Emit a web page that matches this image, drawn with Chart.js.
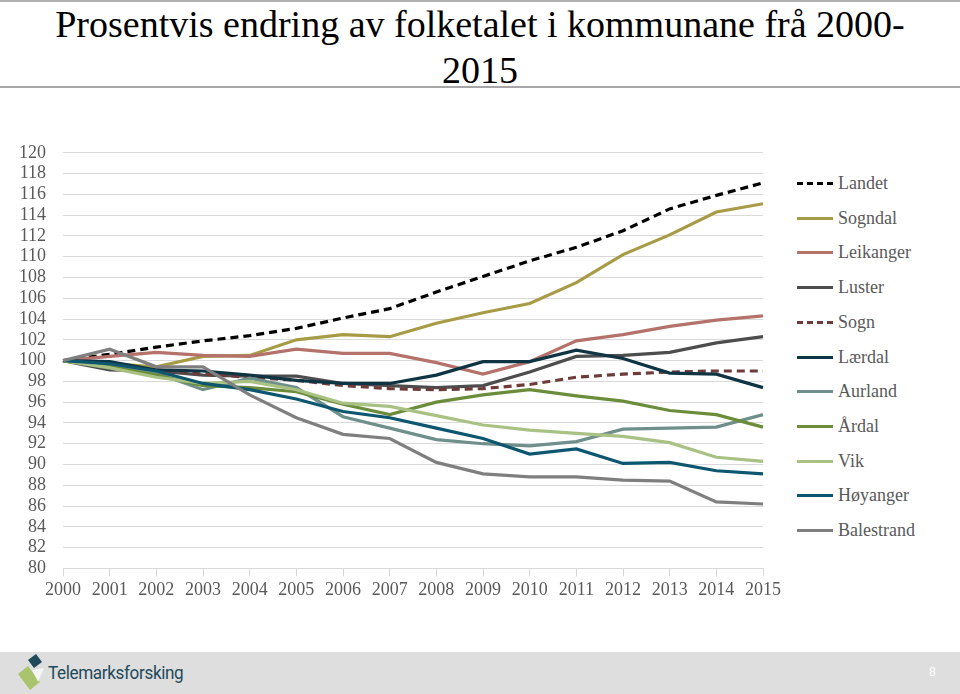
<!DOCTYPE html>
<html>
<head>
<meta charset="utf-8">
<script src="https://cdn.jsdelivr.net/npm/chart.js@4"></script>
<style>
  body { margin: 0; width: 960px; height: 694px; background: #fff; position: relative; overflow: hidden; font-family: "Liberation Serif", serif; }
  #topline { position: absolute; left: 0; top: 0; width: 960px; height: 2px; background: #b0b0b0; }
  #title { position: absolute; left: 0; top: 0; width: 960px; text-align: center; font-size: 38px; line-height: 46px; color: #000; padding-top: 1px; }
  #titleline { position: absolute; left: 0; top: 86px; width: 960px; height: 2px; background: #a6a6a6; }
  #wrap { position: absolute; left: 0; top: 125px; width: 784px; height: 479px; }
  #legend { position: absolute; left: 797px; top: 0; }
  .item { position: absolute; left: 0; height: 20px; white-space: nowrap; font-size: 18px; color: #595959; }
  .item span.sw { position: absolute; left: 0; top: 9px; width: 36px; height: 0; }
  .item span.tx { position: absolute; left: 41px; top: 0; line-height: 20px; }
  #footer { position: absolute; left: 0; top: 652px; width: 960px; height: 42px; background: #dedede; }
  #logo { position: absolute; left: 48px; top: 9px; font-family: "Roboto", "Liberation Sans", sans-serif; font-size: 19px; color: #1e4a5a; letter-spacing: -0.4px; transform: scaleX(0.9); transform-origin: left; }
  #page { position: absolute; left: 929px; top: 13px; font-family: "Liberation Sans", sans-serif; font-size: 12px; color: #fff; }
</style>
</head>
<body>
<div id="topline"></div>
<div id="title">Prosentvis endring av folketalet i kommunane frå 2000-<br>2015</div>
<div id="titleline"></div>
<div id="wrap"><canvas id="chart"></canvas></div>
<div id="legend"></div>
<div id="footer">
  <svg width="40" height="42" style="position:absolute;left:12px;top:0">
    <polygon points="16,8 24,2 30,10 22,16" fill="#1e4a5a"/>
    <polygon points="6,22 16,14 28,30 18,38" fill="#a9c46c"/>
    <polygon points="20,18 32,16 26,30" fill="#ffffff" opacity="0.7"/>
  </svg>
  <div id="logo">Telemarksforsking</div>
  <div id="page">8</div>
</div>
<script>
// years on the x axis
const years = ["2000", "2001", "2002", "2003", "2004", "2005", "2006", "2007",
  "2008", "2009", "2010", "2011", "2012", "2013", "2014", "2015"];

// index, 2000 = 100
const landet     = [100, 100.6, 101.3, 101.9, 102.4, 103.1, 104.1, 105.0, 106.6, 108.1, 109.6, 110.9, 112.5, 114.6, 115.9, 117.1];
const sogndal    = [100, 99.7, 99.4, 100.4, 100.5, 102.0, 102.5, 102.3, 103.6, 104.6, 105.5, 107.5, 110.2, 112.1, 114.3, 115.1];
const leikanger  = [100, 100.4, 100.8, 100.5, 100.4, 101.1, 100.7, 100.7, 99.8, 98.7, 99.9, 101.9, 102.5, 103.3, 103.9, 104.3];
const luster     = [100, 99.1, 99.0, 98.6, 98.5, 98.5, 97.8, 97.6, 97.4, 97.6, 98.9, 100.4, 100.5, 100.8, 101.7, 102.3];
const sogn       = [100, 99.6, 99.1, 98.7, 98.4, 98.1, 97.6, 97.3, 97.2, 97.3, 97.7, 98.4, 98.7, 98.9, 99.0, 99.0];
const laerdal    = [100, 99.9, 99.1, 99.0, 98.6, 98.1, 97.8, 97.8, 98.6, 99.9, 99.9, 101.0, 100.2, 98.8, 98.7, 97.4];
const aurland    = [100, 99.6, 98.8, 97.2, 98.3, 97.4, 94.6, 93.5, 92.4, 92.0, 91.8, 92.2, 93.4, 93.5, 93.6, 94.8];
const ardal      = [100, 99.4, 98.6, 97.6, 97.4, 97.0, 95.8, 94.8, 96.0, 96.7, 97.2, 96.6, 96.1, 95.2, 94.8, 93.6];
const vik        = [100, 99.3, 98.4, 97.8, 98.0, 97.2, 95.9, 95.6, 94.7, 93.8, 93.3, 93.0, 92.7, 92.1, 90.7, 90.3];
const hoyanger   = [100, 99.7, 99.0, 97.8, 97.2, 96.3, 95.1, 94.5, 93.5, 92.5, 91.0, 91.5, 90.1, 90.2, 89.4, 89.1];
const balestrand = [100, 101.1, 99.4, 99.4, 96.7, 94.5, 92.9, 92.5, 90.2, 89.1, 88.8, 88.8, 88.5, 88.4, 86.4, 86.2];

const names  = ["Landet", "Sogndal", "Leikanger", "Luster", "Sogn", "Lærdal", "Aurland", "Årdal", "Vik", "Høyanger", "Balestrand"];
const series = [landet, sogndal, leikanger, luster, sogn, laerdal, aurland, ardal, vik, hoyanger, balestrand];
const colors = ["#000000", "#a89b46", "#b4726a", "#4d4d4d", "#6e3b3b", "#0f3443", "#6f8f8a", "#6b8c3a", "#a9c284", "#0c5670", "#7f7f7f"];
const dashed = [true, false, false, false, true, false, false, false, false, false, false];

Chart.defaults.font.family = "'Liberation Serif', serif";
Chart.defaults.font.size = 18;
Chart.defaults.color = "#595959";

// draw later series first so Landet ends up on top, like the original
const datasets = names.map((name, i) => ({
  label: name,
  data: series[i],
  borderColor: colors[i],
  backgroundColor: colors[i],
  borderWidth: 3.2,
  borderDash: dashed[i] ? [8, 5] : [],
  pointRadius: 0,
  tension: 0,
  order: -i
}));

function drawChart() {
  new Chart(document.getElementById("chart").getContext("2d"), {
    type: "line",
    data: { labels: years, datasets: datasets },
    options: {
      responsive: true,
      maintainAspectRatio: false,
      animation: false,
      layout: { padding: { left: 2, right: 0, top: 0, bottom: 0 } },
      plugins: {
        legend: { display: false },
        tooltip: { enabled: false }
      },
      scales: {
        x: {
          grid: { drawOnChartArea: false, drawTicks: true, tickLength: 8, color: "#d9d9d9" },
          border: { color: "#d9d9d9" },
          ticks: { padding: 3, maxRotation: 0, autoSkip: false }
        },
        y: {
          min: 80,
          max: 120,
          grid: { drawTicks: false, color: "#d9d9d9" },
          border: { display: false },
          ticks: { stepSize: 2, padding: 17, autoSkip: false }
        }
      }
    }
  });
}

// make sure the serif face is ready before the canvas text is drawn
document.fonts.load("18px 'Liberation Serif'").then(drawChart, drawChart);

// legend to the right of the plot
const legend = document.getElementById("legend");
names.forEach((name, i) => {
  const item = document.createElement("div");
  item.className = "item";
  item.style.top = (173 + i * 34.7) + "px";
  const sw = document.createElement("span");
  sw.className = "sw";
  sw.style.borderTop = "3px " + (dashed[i] ? "dashed " : "solid ") + colors[i];
  const tx = document.createElement("span");
  tx.className = "tx";
  tx.textContent = name;
  item.appendChild(sw);
  item.appendChild(tx);
  legend.appendChild(item);
});
</script>
</body>
</html>
